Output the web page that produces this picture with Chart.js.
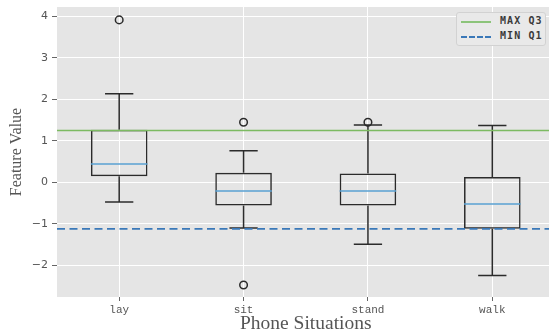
<!DOCTYPE html>
<html>
<head>
<meta charset="utf-8">
<script src="https://cdn.jsdelivr.net/npm/chart.js@4/dist/chart.umd.min.js"></script>
<style>
  html, body { margin: 0; padding: 0; background: #fff; overflow: hidden; }
  #wrap { position: relative; width: 560px; height: 336px; }
  #legend {
    position: absolute; left: 456px; top: 12px; width: 90px; height: 34px;
    background: #e9e9e9; border: 1px solid #d2d2d2; border-radius: 3px;
    box-sizing: border-box;
  }
  .row { position: absolute; left: 0; height: 14px; width: 100%; }
  .sw { position: absolute; left: 4px; top: 7px; width: 30px; height: 0; }
  .lbl {
    position: absolute; left: 43px; top: 0; font: bold 10px "DejaVu Sans Mono", monospace;
    color: #3a3a3a; letter-spacing: 1.1px; line-height: 14px; white-space: pre;
  }
</style>
</head>
<body>
<div id="wrap">
  <canvas id="box"></canvas>
  <div id="legend">
    <div class="row" style="top:1px"><div class="sw" style="border-top:2px solid #8cc47a"></div><div class="lbl">MAX Q3</div></div>
    <div class="row" style="top:16px"><div class="sw" style="border-top:2px dashed #3a78b8"></div><div class="lbl">MIN Q1</div></div>
  </div>
</div>
<script>
// values
const categories = ['lay', 'sit', 'stand', 'walk'];
const q1 = [0.145, -0.555, -0.555, -1.12];
const q3 = [1.265, 0.23, 0.21, 0.128];
const medians = [0.44, -0.21, -0.21, -0.52];
const whiskerLow = [-0.475, -1.10, -1.49, -2.24];
const whiskerHigh = [2.13, 0.76, 1.38, 1.37];
const outlierCats = ['lay', 'sit', 'sit', 'stand'];
const outlierValues = [3.91, 1.445, -2.47, 1.445];
const maxQ3 = 1.25;
const minQ1 = -1.12;
const yTicks = [-2, -1, 0, 1, 2, 3, 4];

const BOX_COLOR = '#2b2b2b';

// plot background, whiskers, medians and the two reference lines
const boxParts = {
    id: 'boxParts',
    beforeDraw(chart) {
        const { ctx, chartArea: a } = chart;
        ctx.save();
        ctx.fillStyle = '#e5e5e5';
        ctx.fillRect(a.left, a.top, a.right - a.left, a.bottom - a.top);
        ctx.restore();
    },
    afterDatasetsDraw(chart) {
        const { ctx, chartArea: a, scales: { x, y } } = chart;
        const bars = chart.getDatasetMeta(0).data;
        ctx.save();
        ctx.beginPath();
        ctx.rect(a.left, a.top, a.right - a.left, a.bottom - a.top);
        ctx.clip();

        categories.forEach((c, i) => {
            const cx = x.getPixelForValue(i);
            const w = bars[i].width;
            ctx.strokeStyle = BOX_COLOR;
            ctx.lineWidth = 1.5;
            ctx.beginPath();
            ctx.moveTo(cx, y.getPixelForValue(q3[i]));
            ctx.lineTo(cx, y.getPixelForValue(whiskerHigh[i]));
            ctx.moveTo(cx, y.getPixelForValue(q1[i]));
            ctx.lineTo(cx, y.getPixelForValue(whiskerLow[i]));
            // caps
            const hi = y.getPixelForValue(whiskerHigh[i]);
            const lo = y.getPixelForValue(whiskerLow[i]);
            ctx.moveTo(cx - w / 4, hi); ctx.lineTo(cx + w / 4, hi);
            ctx.moveTo(cx - w / 4, lo); ctx.lineTo(cx + w / 4, lo);
            ctx.stroke();

            // median
            const m = y.getPixelForValue(medians[i]);
            ctx.strokeStyle = '#58a0d2';
            ctx.lineWidth = 1.5;
            ctx.beginPath();
            ctx.moveTo(cx - w / 2, m); ctx.lineTo(cx + w / 2, m);
            ctx.stroke();
        });

        // MAX Q3
        let py = y.getPixelForValue(maxQ3);
        ctx.strokeStyle = '#7cba62';
        ctx.lineWidth = 1.5;
        ctx.beginPath();
        ctx.moveTo(a.left, py); ctx.lineTo(a.right, py);
        ctx.stroke();

        // MIN Q1
        py = y.getPixelForValue(minQ1);
        ctx.strokeStyle = '#3a78b8';
        ctx.lineWidth = 1.8;
        ctx.setLineDash([8, 4.5]);
        ctx.beginPath();
        ctx.moveTo(a.left, py); ctx.lineTo(a.right, py);
        ctx.stroke();
        ctx.restore();
    }
};

const ctx = document.getElementById('box').getContext('2d');
new Chart(ctx, {
    type: 'bar',
    data: {
        labels: categories,
        datasets: [{
            type: 'bar',
            data: categories.map((c, i) => [q1[i], q3[i]]),
            backgroundColor: 'rgba(0,0,0,0)',
            borderColor: BOX_COLOR,
            borderWidth: 1.5,
            borderSkipped: false,
            barPercentage: 0.455,
            categoryPercentage: 1
        }, {
            type: 'scatter',
            data: outlierCats.map((c, i) => ({ x: c, y: outlierValues[i] })),
            pointStyle: 'circle',
            pointRadius: 3.8,
            borderColor: BOX_COLOR,
            borderWidth: 1.5,
            backgroundColor: 'rgba(0,0,0,0)'
        }]
    },
    options: {
        responsive: true,
        maintainAspectRatio: false,
        animation: false,
        layout: { padding: { top: 7, right: 4, left: 0, bottom: 0 } },
        plugins: {
            legend: { display: false },
            tooltip: { enabled: false }
        },
        scales: {
            x: {
                type: 'category',
                offset: true,
                grid: { color: '#fff', lineWidth: 1, offset: false, tickColor: '#666', tickLength: 4 },
                border: { display: false },
                ticks: { font: { family: 'Liberation Mono', size: 11 }, color: '#555', padding: 2 },
                title: {
                    display: true, text: 'Phone Situations',
                    font: { family: 'Liberation Serif', size: 19.5 }, color: '#555',
                    padding: { top: 0, bottom: 0 }
                },
                afterFit(s) { s.height = 39; s.paddingLeft = 0; s.paddingRight = 0; }
            },
            y: {
                min: -2.76,
                max: 4.22,
                afterBuildTicks(s) { s.ticks = yTicks.map(v => ({ value: v })); },
                grid: { color: '#fff', lineWidth: 1, tickColor: '#666', tickLength: 5 },
                border: { display: false },
                ticks: {
                    font: { family: 'DejaVu Sans', size: 11 }, color: '#555', padding: 4,
                    callback: v => String(v).replace('-', '\u2212')
                },
                title: {
                    display: true, text: 'Feature Value',
                    font: { family: 'Liberation Serif', size: 16 }, color: '#555',
                    padding: { top: 7, bottom: 0 }
                },
                afterFit(s) { s.width = 57; s.paddingTop = 0; s.paddingBottom = 0; }
            }
        }
    },
    plugins: [boxParts]
});
</script>
</body>
</html>
